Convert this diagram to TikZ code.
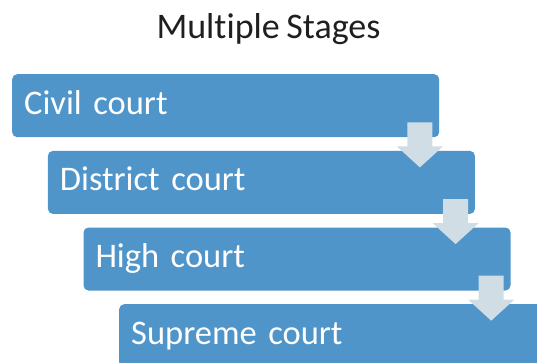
\documentclass[tikz,border=0pt]{standalone}
\usepackage{fontspec}
\setmainfont{Carlito}[Ligatures=NoCommon, WordSpace=0.8]
\usetikzlibrary{calc}
\definecolor{stageblue}{HTML}{4F95CA}
\definecolor{flowgrey}{HTML}{D1DDE5}
\tikzset{
  stagebox/.style={fill=stageblue, draw=none, rounded corners=5pt,
    minimum width=427pt, minimum height=63pt, text width=403pt,
    inner xsep=12pt, inner ysep=0pt, align=left, anchor=north west,
    text=white, font=\fontsize{34.5}{42}\selectfont,
    text height=23pt, text depth=6pt},
  flowarrow/.style={fill=flowgrey, draw=none},
  heading/.style={font=\fontsize{36}{42}\selectfont, text=black!88, anchor=base, inner sep=0pt}
}
% down arrow hanging from the lower right corner of a stage box
\newcommand\stagearrow[1]{%
  \path[flowarrow] ($(#1.south east)+(-32,-15)$) -- ++(25,0) -- ++(0,24)
    -- ++(10.5,0) -- ++(-23,21) -- ++(-23,-21) -- ++(10.5,0) -- cycle;}
\begin{document}
\begin{tikzpicture}[x=1pt, y=-1pt]
  \useasboundingbox (0,0) rectangle (537,363);
  \clip (0,0) rectangle (537,363);
  \fill[white] (0,0) rectangle (537,363);
  \node[heading] (title) at (268.5,39) {Multiple Stages};
  \node[stagebox] (civil)    at (12,74)    {Civil court};
  \node[stagebox] (district) at (47.7,150.7) {District court};
  \node[stagebox] (high)     at (83.3,227.3) {High court};
  \node[stagebox] (supreme)  at (119,304)  {Supreme court};
  \stagearrow{civil}
  \stagearrow{district}
  \stagearrow{high}
\end{tikzpicture}
\end{document}
